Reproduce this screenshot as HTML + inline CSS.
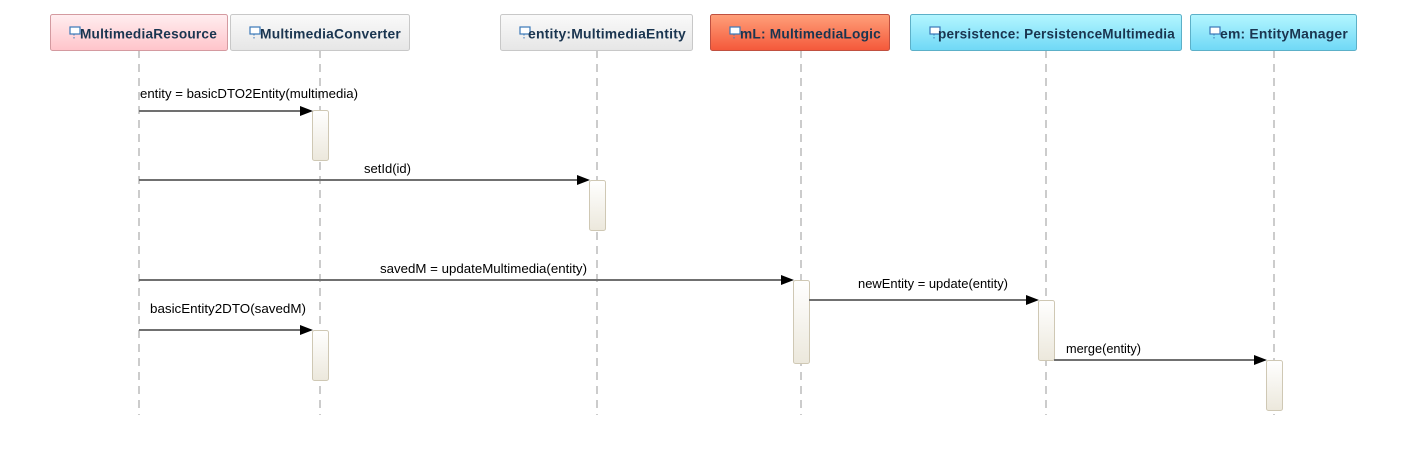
<!DOCTYPE html>
<html><head><meta charset="utf-8"><style>
html,body{margin:0;padding:0;background:#fff;}
svg{display:block;}
text{font-family:"Liberation Sans",Arial,sans-serif;}
.h{font-size:13.5px;font-weight:bold;fill:#1a3550;letter-spacing:0.2px;}
.m{font-size:13px;fill:#000;}
</style></head><body>
<svg width="1407" height="465" viewBox="0 0 1407 465" xmlns="http://www.w3.org/2000/svg">
<defs>
<linearGradient id="gp" x1="0" y1="0" x2="0" y2="1"><stop offset="0" stop-color="#ffeef0"/><stop offset="1" stop-color="#ffc4ca"/></linearGradient>
<linearGradient id="gw" x1="0" y1="0" x2="0" y2="1"><stop offset="0" stop-color="#fafafa"/><stop offset="1" stop-color="#e6e6e6"/></linearGradient>
<linearGradient id="go" x1="0" y1="0" x2="0" y2="1"><stop offset="0" stop-color="#ffa07a"/><stop offset="1" stop-color="#f4583a"/></linearGradient>
<linearGradient id="gc" x1="0" y1="0" x2="0" y2="1"><stop offset="0" stop-color="#b4f6ff"/><stop offset="1" stop-color="#6fd8f6"/></linearGradient>
<linearGradient id="ga" x1="0" y1="0" x2="0" y2="1"><stop offset="0" stop-color="#ffffff"/><stop offset="1" stop-color="#ece8dc"/></linearGradient>
<g id="ic"><rect x="0" y="0" width="10" height="7" fill="#fff" stroke="#3a78b8" stroke-width="1.2"/><line x1="4" y1="7" x2="4" y2="13" stroke="#3a78b8" stroke-width="1" stroke-dasharray="1.5,1.5"/></g>
</defs>
<g stroke="#cccccc" stroke-width="2" stroke-dasharray="8,6">
<line x1="139" y1="50" x2="139" y2="415"/>
<line x1="320" y1="50" x2="320" y2="415"/>
<line x1="597" y1="50" x2="597" y2="415"/>
<line x1="801" y1="50" x2="801" y2="415"/>
<line x1="1046" y1="50" x2="1046" y2="415"/>
<line x1="1274" y1="50" x2="1274" y2="415"/>
</g>
<rect x="50.5" y="14.5" width="177" height="36" rx="2" fill="url(#gp)" stroke="#d49aa0"/>
<rect x="230.5" y="14.5" width="179" height="36" rx="2" fill="url(#gw)" stroke="#c8c8c8"/>
<rect x="500.5" y="14.5" width="192" height="36" rx="2" fill="url(#gw)" stroke="#c8c8c8"/>
<rect x="710.5" y="14.5" width="179" height="36" rx="2" fill="url(#go)" stroke="#c05040"/>
<rect x="910.5" y="14.5" width="271" height="36" rx="2" fill="url(#gc)" stroke="#5cb0c8"/>
<rect x="1190.5" y="14.5" width="166" height="36" rx="2" fill="url(#gc)" stroke="#5cb0c8"/>
<use href="#ic" x="70" y="27"/><text class="h" x="80" y="38.5" textLength="137" lengthAdjust="spacingAndGlyphs">MultimediaResource</text>
<use href="#ic" x="250" y="27"/><text class="h" x="260" y="38.5" textLength="141" lengthAdjust="spacingAndGlyphs">MultimediaConverter</text>
<use href="#ic" x="520" y="27"/><text class="h" x="528" y="38.5" textLength="158" lengthAdjust="spacingAndGlyphs">entity:MultimediaEntity</text>
<use href="#ic" x="730" y="27"/><text class="h" x="740" y="38.5" textLength="141" lengthAdjust="spacingAndGlyphs">mL: MultimediaLogic</text>
<use href="#ic" x="930" y="27"/><text class="h" x="938" y="38.5" textLength="237" lengthAdjust="spacingAndGlyphs">persistence: PersistenceMultimedia</text>
<use href="#ic" x="1210" y="27"/><text class="h" x="1220" y="38.5" textLength="128" lengthAdjust="spacingAndGlyphs">em: EntityManager</text>
<g fill="url(#ga)" stroke="#cfc8b4">
<rect x="312.5" y="110.5" width="16" height="50" rx="2"/>
<rect x="589.5" y="180.5" width="16" height="50" rx="2"/>
<rect x="793.5" y="280.5" width="16" height="83" rx="2"/>
<rect x="1038.5" y="300.5" width="16" height="60" rx="2"/>
<rect x="1266.5" y="360.5" width="16" height="50" rx="2"/>
<rect x="312.5" y="330.5" width="16" height="50" rx="2"/>
</g>
<g stroke="#707070" stroke-width="2">
<line x1="139" y1="111" x2="302" y2="111"/>
<line x1="139" y1="180" x2="579" y2="180"/>
<line x1="139" y1="280" x2="783" y2="280"/>
<line x1="809" y1="300" x2="1028" y2="300"/>
<line x1="139" y1="330" x2="302" y2="330"/>
<line x1="1054" y1="360" x2="1256" y2="360"/>
</g>
<g fill="#000">
<polygon points="300,106 313,111 300,116"/>
<polygon points="577,175 590,180 577,185"/>
<polygon points="781,275 794,280 781,285"/>
<polygon points="1026,295 1039,300 1026,305"/>
<polygon points="300,325 313,330 300,335"/>
<polygon points="1254,355 1267,360 1254,365"/>
</g>
<text class="m" x="140" y="98" textLength="218" lengthAdjust="spacingAndGlyphs">entity = basicDTO2Entity(multimedia)</text>
<text class="m" x="364" y="173" textLength="47" lengthAdjust="spacingAndGlyphs">setId(id)</text>
<text class="m" x="380" y="273" textLength="207" lengthAdjust="spacingAndGlyphs">savedM = updateMultimedia(entity)</text>
<text class="m" x="858" y="288" textLength="150" lengthAdjust="spacingAndGlyphs">newEntity = update(entity)</text>
<text class="m" x="150" y="313" textLength="156" lengthAdjust="spacingAndGlyphs">basicEntity2DTO(savedM)</text>
<text class="m" x="1066" y="353" textLength="75" lengthAdjust="spacingAndGlyphs">merge(entity)</text>
</svg>
</body></html>
